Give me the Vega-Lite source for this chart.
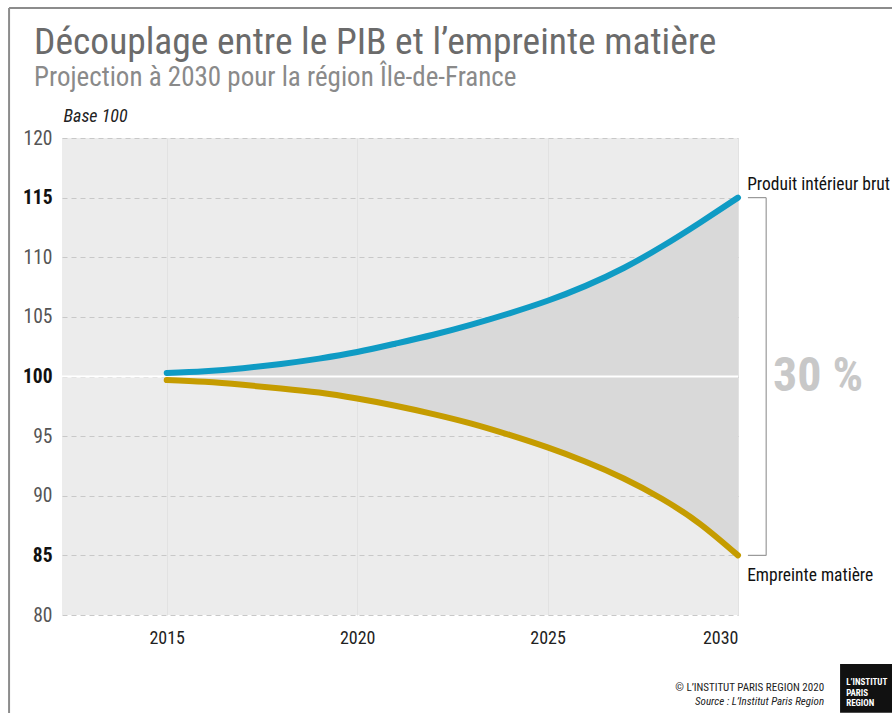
{
  "$schema": "https://vega.github.io/schema/vega-lite/v6.json",
  "width": 676,
  "height": 477,
  "autosize": {"type": "none"},
  "padding": {"left": 62, "top": 138, "right": 154, "bottom": 98},
  "background": "white",
  "title": {
    "text": "Découplage entre le PIB et l’empreinte matière",
    "subtitle": "Projection à 2030 pour la région Île-de-France",
    "anchor": "start",
    "frame": "group",
    "dx": -28,
    "offset": -84,
    "font": "Liberation Sans Narrow, Roboto Condensed, DejaVu Sans Condensed, sans-serif",
    "fontSize": 37.5,
    "fontWeight": "normal",
    "color": "#6b6b6b",
    "subtitleFont": "Liberation Sans Narrow, Roboto Condensed, DejaVu Sans Condensed, sans-serif",
    "subtitleFontSize": 27,
    "subtitleColor": "#8a8a8a",
    "subtitlePadding": 4
  },
  "config": {
    "view": {"fill": "#ececec", "stroke": null},
    "font": "Liberation Sans Narrow, Roboto Condensed, DejaVu Sans Condensed, sans-serif"
  },
  "data": {
    "values": [
      {"year": 2015, "pib": 100.3, "emp": 99.7},
      {"year": 2016, "pib": 100.45, "emp": 99.55},
      {"year": 2017, "pib": 100.7, "emp": 99.3},
      {"year": 2018, "pib": 101.05, "emp": 99.0},
      {"year": 2019, "pib": 101.5, "emp": 98.65},
      {"year": 2020, "pib": 102.05, "emp": 98.15},
      {"year": 2021, "pib": 102.75, "emp": 97.55},
      {"year": 2022, "pib": 103.5, "emp": 96.85},
      {"year": 2023, "pib": 104.35, "emp": 96.05},
      {"year": 2024, "pib": 105.3, "emp": 95.1},
      {"year": 2025, "pib": 106.35, "emp": 94.05},
      {"year": 2026, "pib": 107.6, "emp": 92.85},
      {"year": 2027, "pib": 109.1, "emp": 91.45},
      {"year": 2028, "pib": 110.9, "emp": 89.75},
      {"year": 2029, "pib": 112.9, "emp": 87.65},
      {"year": 2030, "pib": 115.0, "emp": 85.0}
    ]
  },
  "encoding": {
    "x": {
      "field": "year",
      "type": "quantitative",
      "scale": {"domain": [2012.25, 2030], "nice": false, "zero": false},
      "axis": {
        "title": null,
        "values": [2015, 2020, 2025, 2030],
        "format": "d",
        "ticks": false,
        "domain": false,
        "labelFontSize": 18,
        "labelColor": "#222222",
        "labelPadding": 14,
        "grid": true,
        "gridColor": "#e2e2e2",
        "gridWidth": 1
      }
    },
    "y": {
      "field": "pib",
      "type": "quantitative",
      "scale": {"domain": [80, 120], "nice": false, "zero": false},
      "axis": {
        "title": "Base 100",
        "titleAngle": 0,
        "titleAlign": "left",
        "titleBaseline": "bottom",
        "titleX": 1,
        "titleY": -13,
        "titleFontSize": 18,
        "titleFontWeight": "normal",
        "titleFontStyle": "italic",
        "titleColor": "#222222",
        "values": [80, 85, 90, 95, 100, 105, 110, 115, 120],
        "ticks": false,
        "domain": false,
        "labelFontSize": 19.5,
        "labelPadding": 10,
        "labelColor": {"condition": {"test": "datum.value == 85 || datum.value == 100 || datum.value == 115", "value": "#111111"}, "value": "#555555"},
        "labelFontWeight": {"condition": {"test": "datum.value == 85 || datum.value == 100 || datum.value == 115", "value": "bold"}, "value": "normal"},
        "grid": true,
        "gridColor": "#c8c8c8",
        "gridDash": [5, 4],
        "gridWidth": 1
      }
    }
  },
  "layer": [
    {
      "mark": {"type": "area", "color": "#d9d9d9", "opacity": 1, "interpolate": "natural"},
      "encoding": {"y2": {"field": "emp"}}
    },
    {
      "data": {"values": [{"v": 100}]},
      "mark": {"type": "rule", "color": "white", "strokeWidth": 2},
      "encoding": {"x": null, "y": {"field": "v", "type": "quantitative"}}
    },
    {
      "mark": {"type": "line", "color": "#0f9bc4", "strokeWidth": 6, "strokeCap": "round", "interpolate": "natural"}
    },
    {
      "mark": {"type": "line", "color": "#c59c00", "strokeWidth": 6, "strokeCap": "round", "interpolate": "natural"},
      "encoding": {"y": {"field": "emp", "type": "quantitative"}}
    },
    {
      "data": {"values": [
        {"x1": 2030.74, "x2": 2030.74, "y1": 85, "y2": 115},
        {"x1": 2030.26, "x2": 2030.74, "y1": 115, "y2": 115},
        {"x1": 2030.26, "x2": 2030.74, "y1": 85, "y2": 85}
      ]},
      "mark": {"type": "rule", "color": "#9a9a9a", "strokeWidth": 1.2},
      "encoding": {
        "x": {"field": "x1", "type": "quantitative"},
        "x2": {"field": "x2"},
        "y": {"field": "y1", "type": "quantitative"},
        "y2": {"field": "y2"}
      }
    },
    {
      "data": {"values": [
        {"x1": 2010.86, "x2": 2034.5, "y1": 130.9, "y2": 130.9},
        {"x1": 2010.86, "x2": 2010.86, "y1": 130.9, "y2": 71}
      ]},
      "mark": {"type": "rule", "color": "#8c8c8c", "strokeWidth": 2},
      "encoding": {
        "x": {"field": "x1", "type": "quantitative"},
        "x2": {"field": "x2"},
        "y": {"field": "y1", "type": "quantitative"},
        "y2": {"field": "y2"}
      }
    },
    {
      "data": {"values": [
        {"x": 2030.24, "y": 116.1, "label": "Produit intérieur brut"},
        {"x": 2030.24, "y": 83.3, "label": "Empreinte matière"}
      ]},
      "mark": {"type": "text", "align": "left", "baseline": "middle", "fontSize": 17.5, "color": "#111111"},
      "encoding": {
        "x": {"field": "x", "type": "quantitative"},
        "y": {"field": "y", "type": "quantitative"},
        "text": {"field": "label"}
      }
    },
    {
      "data": {"values": [{"x": 2030.92, "y": 100, "label": "30 %"}]},
      "mark": {"type": "text", "align": "left", "baseline": "middle", "fontSize": 48, "fontWeight": "bold", "color": "#c8c8c8"},
      "encoding": {
        "x": {"field": "x", "type": "quantitative"},
        "y": {"field": "y", "type": "quantitative"},
        "text": {"field": "label"}
      }
    },
    {
      "data": {"values": [{"x": 2032.26, "y": 73.85, "label": "© L’INSTITUT PARIS REGION 2020"}]},
      "mark": {"type": "text", "align": "right", "baseline": "middle", "fontSize": 11, "color": "#222222"},
      "encoding": {
        "x": {"field": "x", "type": "quantitative"},
        "y": {"field": "y", "type": "quantitative"},
        "text": {"field": "label"}
      }
    },
    {
      "data": {"values": [{"x": 2032.26, "y": 72.7, "label": "Source : L’Institut Paris Region"}]},
      "mark": {"type": "text", "align": "right", "baseline": "middle", "fontSize": 11, "fontStyle": "italic", "color": "#222222"},
      "encoding": {
        "x": {"field": "x", "type": "quantitative"},
        "y": {"field": "y", "type": "quantitative"},
        "text": {"field": "label"}
      }
    },
    {
      "data": {"values": [{"x1": 2032.68, "x2": 2034.1, "y1": 75.9, "y2": 71.8}]},
      "mark": {"type": "rect", "color": "#111111"},
      "encoding": {
        "x": {"field": "x1", "type": "quantitative"},
        "x2": {"field": "x2"},
        "y": {"field": "y1", "type": "quantitative"},
        "y2": {"field": "y2"}
      }
    },
    {
      "data": {"values": [
        {"x": 2032.84, "y": 74.35, "label": "L’INSTITUT"},
        {"x": 2032.84, "y": 73.5, "label": "PARIS"},
        {"x": 2032.84, "y": 72.65, "label": "REGION"}
      ]},
      "mark": {"type": "text", "align": "left", "baseline": "middle", "fontSize": 9, "fontWeight": "bold", "color": "white"},
      "encoding": {
        "x": {"field": "x", "type": "quantitative"},
        "y": {"field": "y", "type": "quantitative"},
        "text": {"field": "label"}
      }
    }
  ]
}
